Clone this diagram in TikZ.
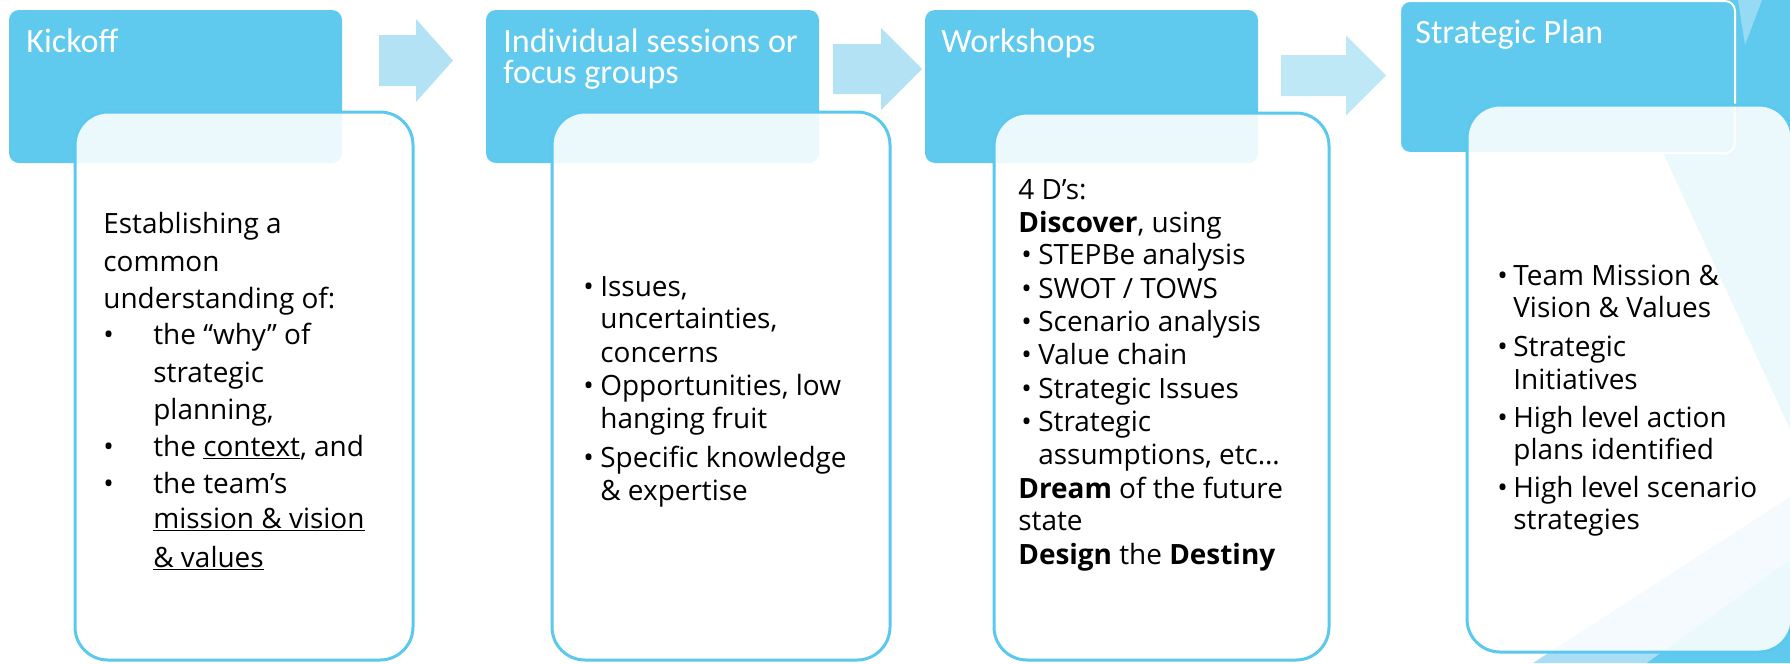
\documentclass[tikz,border=0pt]{standalone}
\usepackage{fontspec}
\setmainfont{Open Sans}
\newfontfamily\headfont{Carlito}
\usepackage{xcolor}
\usetikzlibrary{positioning,calc}

\definecolor{headblue}{HTML}{5FC9EE}
\definecolor{lineblue}{HTML}{5BC8EE}
\definecolor{arrowblue}{HTML}{B3E2F5}
\definecolor{arrowpale}{HTML}{BEE8F6}
\definecolor{facetpale}{HTML}{A9DEF4}

\tikzset{
    headbox/.style={fill=headblue, rounded corners=0.2cm},
    panelbox/.style={draw=lineblue, line width=0.06cm, fill=white, fill opacity=0.88, rounded corners=0.66cm},
    headtext/.style={anchor=base west, inner sep=0pt, text=white, font=\headfont\fontsize{19.4}{23}\selectfont},
    bodytext/.style={anchor=base west, inner sep=0pt, font=\fontsize{15.9}{19}\selectfont}
}

\begin{document}
\begin{tikzpicture}[x=0.02cm, y=-0.02cm]
    \clip (0,0) rectangle (1790,663);

    % Background facets
    \fill[headblue] (1593,0) -- (1790,0) -- (1790,429) -- cycle;
    \fill[white, opacity=0.35] (1738,0) -- (1762,0) -- (1745,45) -- cycle;
    \fill[facetpale] (1533,663) -- (1790,497) -- (1790,663) -- cycle;
    \fill[headblue] (1647,663) -- (1790,560) -- (1790,663) -- cycle;

    % Block arrows
    \foreach \xa/\xb/\xc/\yc/\sw/\hw/\col in {379/416/453/60.5/25.5/41.5/arrowblue, 833/881/922/69/25/41/arrowblue, 1281/1346/1386/75.5/20.5/40/arrowpale} {
        \fill[\col] (\xa,\yc-\sw) -- (\xb,\yc-\sw) -- (\xb,\yc-\hw) -- (\xc,\yc) -- (\xb,\yc+\hw) -- (\xb,\yc+\sw) -- (\xa,\yc+\sw) -- cycle;
    }

    % Headers
    \foreach \xa/\ya/\xb/\yb in {9/10/342/163, 486/10/819/163, 925/10/1258/163} {
        \fill[headbox] (\xa,\ya) rectangle (\xb,\yb);
    }
    \draw[headbox, draw=white, line width=0.04cm] (1400,1) rectangle (1735,153);

    % Panels
    \foreach \xa/\ya/\xb/\yb in {75/112/413/660, 552/112/890/660, 994/113/1329/660, 1467/105/1792/652} {
        \path[panelbox] (\xa,\ya) rectangle (\xb,\yb);
    }

    % Header titles
    \node[headtext] (kickoff) at (26,52) {Kickoff};
    \node[headtext] (sessions) at (503,52) {Individual sessions or};
    \node[headtext] (groups) at (503,83) {focus groups};
    \node[headtext] (workshops) at (941,52) {Workshops};
    \node[headtext] (plan) at (1415,43) {Strategic Plan};

    % Kickoff text
    \foreach \i/\x/\y/\txt in {1/103/233/{Establishing a}, 2/103/271/common, 3/103/308/{understanding of:}, 4/153/344/{the “why” of}, 5/153/382/strategic, 6/153/419/{planning,}, 7/153/456/{the \underline{context}, and}, 8/153/493/{the team’s}, 9/153/528/{\underline{mission \& vision}}, 10/153/567/{\underline{\& values}}} {
        \node[bodytext] (k\i) at (\x,\y) {\txt};
    }
    \foreach \y in {344,456,493} {
        \node[bodytext] (kb\y) at (103,\y) {\textbullet};
    }

    % Sessions text
    \foreach \i/\y/\txt in {1/296/{Issues,}, 2/328/{uncertainties,}, 3/362/concerns, 4/395/{Opportunities, low}, 5/428/{hanging fruit}, 6/467/{Specific knowledge}, 7/500/{\& expertise}} {
        \node[bodytext] (s\i) at (600,\y) {\txt};
    }
    \foreach \y in {296,395,467} {
        \node[bodytext] (sb\y) at (583,\y) {\textbullet};
    }

    % Workshops text
    \foreach \i/\x/\y/\txt in {1/1018/199/{4 D’s:}, 2/1018/232/{\textbf{Discover}, using}, 3/1038/264/{STEPBe analysis}, 4/1038/298/{SWOT / TOWS}, 5/1038/331/{Scenario analysis}, 6/1038/364/{Value chain}, 7/1038/398/{Strategic Issues}, 8/1038/431/Strategic, 9/1038/464/{assumptions, etc…}, 10/1018/498/{\textbf{Dream} of the future}, 11/1018/530/state, 12/1018/564/{\textbf{Design} the \textbf{Destiny}}} {
        \node[bodytext] (w\i) at (\x,\y) {\txt};
    }
    \foreach \y in {264,298,331,364,398,431} {
        \node[bodytext] (wb\y) at (1021,\y) {\textbullet};
    }

    % Plan text
    \foreach \i/\y/\txt in {1/285/{Team Mission \&}, 2/317/{Vision \& Values}, 3/356/Strategic, 4/389/Initiatives, 5/427/{High level action}, 6/459/{plans identified}, 7/497/{High level scenario}, 8/529/strategies} {
        \node[bodytext] (p\i) at (1513,\y) {\txt};
    }
    \foreach \y in {285,356,427,497} {
        \node[bodytext] (pb\y) at (1497,\y) {\textbullet};
    }
\end{tikzpicture}
\end{document}
